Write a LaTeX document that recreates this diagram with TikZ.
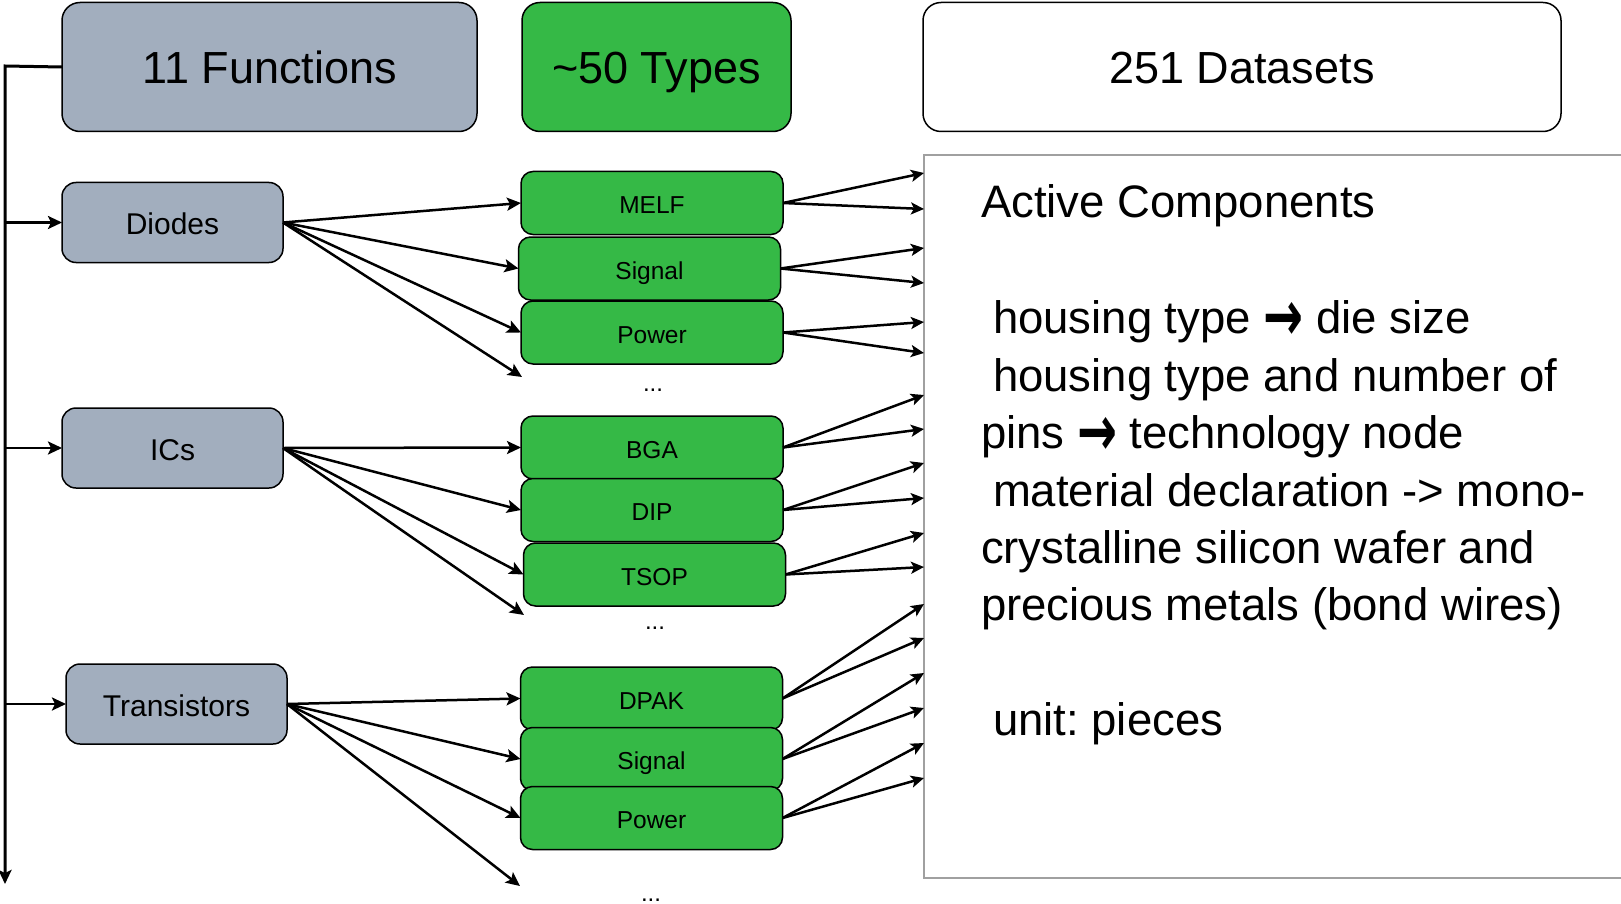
\documentclass[tikz,border=0pt]{standalone}
\usepackage{fontspec}
\setmainfont{Liberation Sans}
\newfontfamily\arrowfont{DejaVu Sans}
\usetikzlibrary{arrows.meta}
\definecolor{slate}{HTML}{A2AEBE}
\definecolor{leaf}{HTML}{35B946}
\definecolor{rim}{HTML}{A0A0A0}
\newcommand{\rarr}{\raisebox{-0.16em}{\scalebox{1.05}[1.55]{\arrowfont\bfseries →}}}

\begin{document}
\frenchspacing
\begin{tikzpicture}[x=1pt,y=-1pt,
  every node/.style={inner sep=0pt, outer sep=0pt},
  headbox/.style={text height=33pt, text depth=0pt, draw=black, line width=1.5pt, rounded corners=18pt,
    minimum height=129pt, font=\fontsize{45}{54}\selectfont},
  funcbox/.style={text height=24pt, text depth=0pt, draw=black, line width=1.5pt, fill=slate, rounded corners=14pt,
    minimum width=221pt, minimum height=80pt, font=\fontsize{30}{36}\selectfont},
  typebox/.style={text height=21pt, text depth=0pt, draw=black, line width=1.5pt, fill=leaf, rounded corners=12pt,
    minimum width=262pt, minimum height=63pt, font=\fontsize{24.5}{29}\selectfont},
  dots/.style={anchor=base, font=\fontsize{24}{29}\selectfont},
  panelline/.style={anchor=base west, font=\fontsize{45.5}{57}\selectfont},
  trunk/.style={line width=3pt},
  link/.style={line width=2.5pt, -{Stealth[length=14pt,width=13pt,inset=3pt]}},
  feed/.style={line width=2.5pt, -{Stealth[length=13pt,width=12pt,inset=3pt]}}
]
\useasboundingbox (0,0) rectangle (1621,904);

% column headers
\node[headbox, fill=slate, minimum width=415pt] (fun) at (269.5,67) {11 Functions};
\node[headbox, fill=leaf, minimum width=269pt] (types) at (656.5,67) {\textasciitilde 50 Types};
\node[headbox, fill=white, minimum width=638pt] (data) at (1242,67) {251 Datasets};

% dataset panel
\node[draw=rim, line width=1.5pt, fill=white, minimum width=716pt, minimum height=723pt,
      anchor=north west] (panel) at (924,155) {};
\node[panelline] (p1) at (981,218) {Active Components};
\node[panelline] (p2) at (993,333) {housing type \rarr{} die size};
\node[panelline] (p3) at (993,391) {housing type and number of};
\node[panelline] (p4) at (981,448) {pins \rarr{} technology node};
\node[panelline] (p5) at (993,506) {material declaration -> mono-};
\node[panelline] (p6) at (981,563) {crystalline silicon wafer and};
\node[panelline] (p7) at (981,620) {precious metals (bond wires)};
\node[panelline] (p8) at (993,735) {unit: pieces};

% functions
\node[funcbox] (diodes) at (172.5,222.5) {Diodes};
\node[funcbox] (ics) at (172.5,448) {ICs};
\node[funcbox] (trans) at (176.5,704) {Transistors};

% housing types
\node[typebox] (melf) at (652,203) {MELF};
\node[typebox] (dsig) at (649.5,268.5) {Signal};
\node[typebox] (dpow) at (652,332.5) {Power};
\node[dots] (ddots) at (653,391) {...};

\node[typebox] (bga) at (652,447.5) {BGA};
\node[typebox] (dip) at (652,510) {DIP};
\node[typebox] (tsop) at (654.5,574.5) {TSOP};
\node[dots] (idots) at (655,629) {...};

\node[typebox] (dpak) at (651.5,698.5) {DPAK};
\node[typebox] (tsig) at (651.5,759) {Signal};
\node[typebox] (tpow) at (651.5,818) {Power};
\node[dots] (tdots) at (651,901) {...};

% trunk on the left
\coordinate (top) at (5,66);
\coordinate (bottom) at (5,884);
\draw[trunk, -{Stealth[length=14pt,width=13pt,inset=3pt]}] (fun.west) -- (top) -- (bottom);
\foreach \f in {diodes,ics,trans}
  \draw[link] (\f.west -| top) -- (\f.west);

% functions to housing types
\coordinate (dfree) at (522,377);
\coordinate (ifree) at (524,615);
\coordinate (tfree) at (520,886);
\foreach \t in {melf,dsig,dpow} \draw[link] (diodes.east) -- (\t.west);
\draw[link] (diodes.east) -- (dfree);
\foreach \t in {bga,dip,tsop} \draw[link] (ics.east) -- (\t.west);
\draw[link] (ics.east) -- (ifree);
\foreach \t in {dpak,tsig,tpow} \draw[link] (trans.east) -- (\t.west);
\draw[link] (trans.east) -- (tfree);

% housing types to datasets
\foreach \t/\a/\b in {melf/173/209, dsig/248/283, dpow/322/353,
                      bga/395/429, dip/463/498, tsop/533/567,
                      dpak/604/638, tsig/673/708, tpow/743/778} {
  \coordinate (\t-a) at (924,\a);
  \coordinate (\t-b) at (924,\b);
  \draw[feed] (\t.east) -- (\t-a);
  \draw[feed] (\t.east) -- (\t-b);
}
\end{tikzpicture}
\end{document}
